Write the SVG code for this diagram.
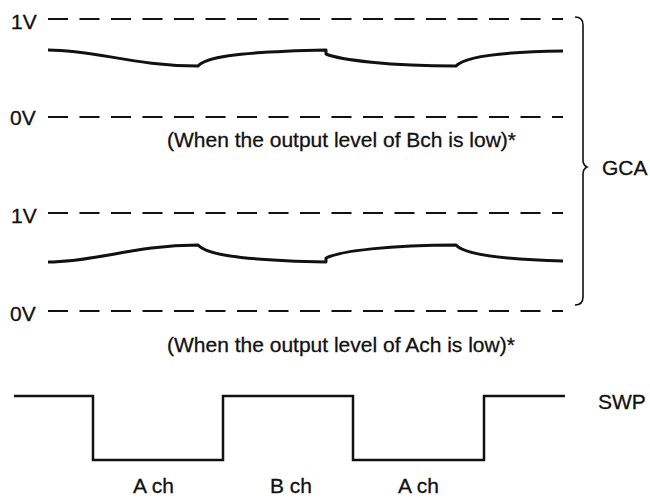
<svg xmlns="http://www.w3.org/2000/svg" width="650" height="498" viewBox="0 0 650 498">
<style>
text{font-family:"Liberation Sans",Arial,sans-serif;font-size:21px;fill:#111;stroke:#111;stroke-width:0.3}
.dash{stroke:#111;stroke-width:1.8;stroke-dasharray:20 11.5;fill:none}
.wave{stroke:#111;stroke-width:3;fill:none;stroke-linejoin:round}
.swp{stroke:#111;stroke-width:2.5;fill:none}
.brace{stroke:#111;stroke-width:1.6;fill:none}
</style>
<rect width="650" height="498" fill="#fff"/>
<g id="gca-bch">
<line class="dash" x1="48" y1="19" x2="563" y2="19"/>
<line class="dash" x1="48" y1="117" x2="563" y2="117"/>
<text x="11" y="29">1V</text>
<text x="10" y="125">0V</text>
<path class="wave" d="M48,50 C95,50 135,66 198,66 C205,58 230,52 326,50 L326,54 C340,60 390,66 456,66 C463,58 490,52 563,51"/>
<text x="167" y="147">(When the output level of Bch is low)*</text>
</g>
<g id="gca-ach">
<line class="dash" x1="48" y1="213" x2="563" y2="213"/>
<line class="dash" x1="48" y1="311" x2="563" y2="311"/>
<text x="11" y="223">1V</text>
<text x="10" y="321">0V</text>
<path class="wave" d="M48,262 C95,262 135,245 198,245 C205,253 230,260 326,262 L326,258 C340,251 390,245 456,245 C463,253 490,259 563,261"/>
<text x="167" y="352">(When the output level of Ach is low)*</text>
</g>
<g id="gca-brace">
<path class="brace" d="M575,17 Q583,17 583,25 L583,160 Q583,165 587,167 Q583,169 583,174 L583,297 Q583,305 575,305"/>
<text x="602" y="175">GCA</text>
</g>
<g id="swp">
<path class="swp" d="M14,396 H93 V460 H223 V396 H353 V460 H484 V396 H565"/>
<text x="598" y="409">SWP</text>
<text x="133" y="493">A ch</text>
<text x="270" y="493">B ch</text>
<text x="398" y="493">A ch</text>
</g>
<g id="connectors"></g>
</svg>
